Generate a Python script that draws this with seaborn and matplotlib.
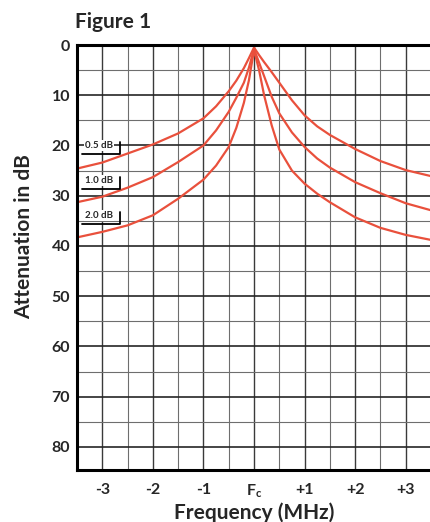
import matplotlib.pyplot as plt
import pandas as pd
import seaborn as sns

# frequency offset from Fc (MHz) and attenuation (dB)
freq = [-3.5, -3, -2.5, -2, -1.5, -1, -0.75, -0.5, -0.35, -0.2, -0.1, 0,
        0.1, 0.2, 0.35, 0.5, 0.75, 1, 1.25, 1.5, 2, 2.5, 3, 3.5]
atten_05 = [24.6, 23.4, 21.6, 19.8, 17.6, 14.6, 12.2, 9.2, 7.1, 4.6, 2.6, 0.5,
            2.0, 3.4, 5.4, 7.5, 11.0, 14.0, 16.2, 17.9, 20.7, 23.1, 24.9, 26.1]
atten_10 = [31.3, 30.2, 28.4, 26.3, 23.3, 20.0, 17.0, 13.3, 10.5, 7.5, 4.5, 0.8,
            3.5, 6.2, 10.3, 13.6, 17.4, 20.3, 22.6, 24.4, 27.3, 29.5, 31.5, 32.9]
atten_20 = [38.3, 37.2, 35.9, 33.9, 30.6, 26.8, 24.0, 20.3, 16.5, 11.5, 7.0, 1.0,
            5.0, 10.0, 16.0, 20.8, 25.0, 27.6, 29.6, 31.3, 34.3, 36.4, 37.8, 38.8]
ripple_labels = ["0.5 dB", "1.0 dB", "2.0 dB"]

xtick_vals = [-3, -2, -1, 0, 1, 2, 3]
xtick_labels = ["-3", "-2", "-1", r"$\mathbf{F_c}$", "+1", "+2", "+3"]
ytick_vals = [0, 10, 20, 30, 40, 50, 60, 70, 80]

rows = []
for lab, vals in zip(ripple_labels, [atten_05, atten_10, atten_20]):
    for f, a in zip(freq, vals):
        rows.append((lab, f, a))
df = pd.DataFrame(rows, columns=["ripple", "freq", "atten"])

sns.set_style("white")
plt.rcParams["font.family"] = ["Lato", "DejaVu Sans"]
plt.rcParams["mathtext.fontset"] = "custom"
plt.rcParams["mathtext.bf"] = "Lato:bold"
plt.rcParams["mathtext.rm"] = "Lato:bold"

red = "#e9503c"
fig = plt.figure(figsize=(4.31, 5.22), dpi=100)
ax = fig.add_axes([77 / 431, 52 / 522, 354 / 431, 425 / 522])

# grid
for x in [i * 0.5 for i in range(-7, 8)]:
    major = float(x).is_integer()
    ax.axvline(x, color="#3a3a3a" if major else "#6e6e6e",
               lw=1.0 if major else 0.8, zorder=1)
for y in range(5, 85, 5):
    major = y % 10 == 0
    ax.axhline(y, color="#262626" if major else "#6e6e6e",
               lw=1.2 if major else 0.8, zorder=1)

sns.lineplot(data=df, x="freq", y="atten", hue="ripple",
             palette=[red, red, red], legend=False, sort=False,
             lw=1.6, ax=ax, zorder=3)

ax.set_xlim(-3.5, 3.5)
ax.set_ylim(84.6, 0)
ax.set_xticks(xtick_vals, xtick_labels)
ax.set_yticks(ytick_vals)
ax.tick_params(length=0, labelsize=11.5)
ax.tick_params(axis="x", pad=9)
ax.tick_params(axis="y", pad=5)
for t in ax.get_xticklabels() + ax.get_yticklabels():
    t.set_fontweight("bold")

for side in ["left", "bottom", "top"]:
    ax.spines[side].set_linewidth(2.2)
    ax.spines[side].set_color("black")
    ax.spines[side].set_zorder(5)
ax.spines["right"].set_visible(False)

ax.set_xlabel("Frequency (MHz)", fontsize=15, fontweight="bold", labelpad=2)
ax.set_ylabel("Attenuation in dB", fontsize=15, fontweight="bold")
ax.yaxis.set_label_coords(-0.12, 0.55)
fig.text(75 / 431, 1 - 28 / 522, "Figure 1", fontsize=15, fontweight="bold",
         ha="left", va="baseline")

# ripple labels with bracket
for lab, ty in zip(ripple_labels, [20.0, 26.9, 33.9]):
    ax.text(-3.34, ty, lab, fontsize=7, fontweight="bold", ha="left",
            va="center", zorder=4,
            bbox=dict(fc="white", ec="none", pad=0.6))
    ax.plot([-3.4, -2.64, -2.64], [ty + 1.7, ty + 1.7, ty - 0.7],
            color="black", lw=1.3, zorder=4)

fig.savefig("out.png", dpi=100)
